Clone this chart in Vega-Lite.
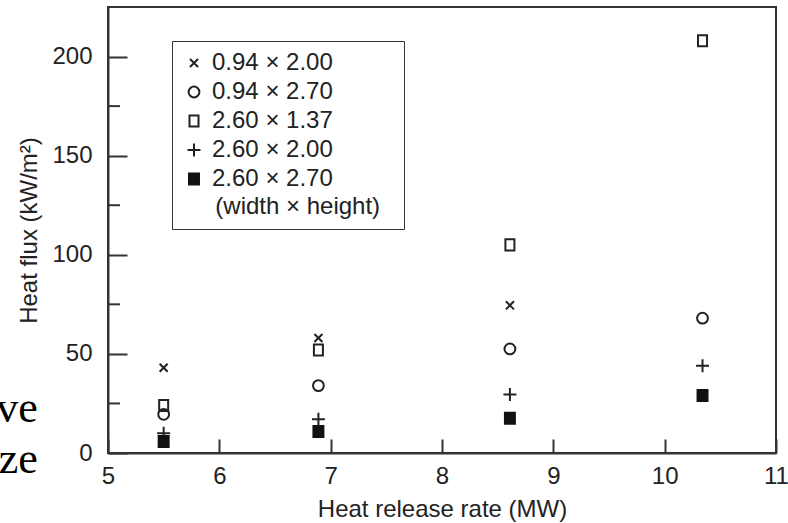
{
  "$schema": "https://vega.github.io/schema/vega-lite/v6.json",
  "width": 668,
  "height": 446,
  "autosize": {"type": "none"},
  "padding": {"left": 108, "top": 7, "right": 12, "bottom": 70},
  "background": "white",
  "config": {
    "view": {"stroke": "#333", "strokeWidth": 2},
    "font": "Liberation Sans",
    "axis": {
      "labelFont": "Liberation Sans", "titleFont": "Liberation Sans",
      "labelFontSize": 24, "titleFontSize": 24,
      "labelColor": "#222", "titleColor": "#222", "titleFontWeight": "normal",
      "domainColor": "#333", "domainWidth": 2, "tickColor": "#333", "tickWidth": 2,
      "grid": false, "labelFlush": false, "labelOverlap": false, "labelBound": false
    },
    "legend": {
      "symbolSize": 144,
      "orient": "none", "legendX": 64, "legendY": 34,
      "titleOrient": "bottom", "titleAnchor": "start", "titleLimit": 400, "labelLimit": 400,
      "titleFontSize": 24, "titleFontWeight": "normal", "titleFont": "Liberation Sans", "titleColor": "#222", "titlePadding": 4,
      "labelFontSize": 24, "labelFont": "Liberation Sans", "labelColor": "#222", "labelOffset": 6,
      "padding": 10, "strokeColor": "#333", "fillColor": "white", "rowPadding": 5,
      "symbolStrokeWidth": 2
    }
  },
  "layer": [
    {
      "data": {"values": [{"v": 25}, {"v": 75}, {"v": 125}, {"v": 175}]},
      "mark": {"type": "rule", "color": "#333", "strokeWidth": 2},
      "encoding": {
        "y": {"field": "v", "type": "quantitative"},
        "x": {"datum": 5},
        "x2": {"datum": 5.108}
      }
    },
    {
      "data": {"values": [
        {"hrr": 5.5, "flux": 43, "size": "0.94 × 2.00"},
        {"hrr": 6.89, "flux": 58, "size": "0.94 × 2.00"},
        {"hrr": 8.61, "flux": 74.5, "size": "0.94 × 2.00"},
        {"hrr": 5.5, "flux": 19.5, "size": "0.94 × 2.70"},
        {"hrr": 6.89, "flux": 34, "size": "0.94 × 2.70"},
        {"hrr": 8.61, "flux": 52.5, "size": "0.94 × 2.70"},
        {"hrr": 10.34, "flux": 68, "size": "0.94 × 2.70"},
        {"hrr": 5.5, "flux": 24, "size": "2.60 × 1.37"},
        {"hrr": 6.89, "flux": 52, "size": "2.60 × 1.37"},
        {"hrr": 8.61, "flux": 105, "size": "2.60 × 1.37"},
        {"hrr": 10.34, "flux": 208, "size": "2.60 × 1.37"},
        {"hrr": 5.5, "flux": 10, "size": "2.60 × 2.00"},
        {"hrr": 6.89, "flux": 17, "size": "2.60 × 2.00"},
        {"hrr": 8.61, "flux": 29.5, "size": "2.60 × 2.00"},
        {"hrr": 10.34, "flux": 44, "size": "2.60 × 2.00"},
        {"hrr": 5.5, "flux": 5.8, "size": "2.60 × 2.70"},
        {"hrr": 6.89, "flux": 10.8, "size": "2.60 × 2.70"},
        {"hrr": 8.61, "flux": 17.5, "size": "2.60 × 2.70"},
        {"hrr": 10.34, "flux": 29, "size": "2.60 × 2.70"}
      ]},
      "mark": {"type": "point", "filled": false, "strokeWidth": 2, "opacity": 1, "size": 144},
      "encoding": {
        "x": {
          "field": "hrr", "type": "quantitative",
          "scale": {"domain": [5, 11], "nice": false, "zero": false},
          "axis": {"values": [5, 6, 7, 8, 9, 10, 11], "format": "d", "tickSize": -14, "labelPadding": 25, "title": "Heat release rate (MW)", "titlePadding": 9}
        },
        "y": {
          "field": "flux", "type": "quantitative",
          "scale": {"domain": [0, 225], "nice": false},
          "axis": {
            "values": [0, 50, 100, 150, 200],
            "format": "d",
            "tickSize": -19,
            "labelPadding": 35,
            "title": "Heat flux (kW/m²)", "titlePadding": 10
          }
        },
        "shape": {
          "field": "size", "type": "nominal",
          "scale": {
            "domain": ["0.94 × 2.00", "0.94 × 2.70", "2.60 × 1.37", "2.60 × 2.00", "2.60 × 2.70"],
            "range": [
              "M-0.67,-0.67L0.67,0.67M-0.67,0.67L0.67,-0.67",
              "M-0.9,0A0.9,0.9 0 1,0 0.9,0A0.9,0.9 0 1,0 -0.9,0Z",
              "M-0.75,-0.92H0.75V0.92H-0.75Z",
              "M-1.08,0H1.08M0,-1.08V1.08",
              "M-0.83,-0.92H0.83V0.92H-0.83Z"
            ]
          },
          "legend": {"title": "\u200b\u00a0\u00a0\u00a0\u00a0\u00a0(width × height)\u00a0\u00a0\u200b"}
        },
        "fill": {
          "field": "size", "type": "nominal",
          "scale": {
            "domain": ["0.94 × 2.00", "0.94 × 2.70", "2.60 × 1.37", "2.60 × 2.00", "2.60 × 2.70"],
            "range": ["transparent", "transparent", "transparent", "transparent", "#111"]
          },
          "legend": {"title": "\u200b\u00a0\u00a0\u00a0\u00a0\u00a0(width × height)\u00a0\u00a0\u200b"}
        },
        "stroke": {
          "field": "size", "type": "nominal",
          "scale": {
            "domain": ["0.94 × 2.00", "0.94 × 2.70", "2.60 × 1.37", "2.60 × 2.00", "2.60 × 2.70"],
            "range": ["#222", "#222", "#222", "#222", "#111"]
          },
          "legend": {"title": "\u200b\u00a0\u00a0\u00a0\u00a0\u00a0(width × height)\u00a0\u00a0\u200b"}
        }
      }
    },
    {
      "data": {"values": [
        {"word": "ve", "px": 4.37, "py": 15.7},
        {"word": "ze", "px": 4.37, "py": -10.1}
      ]},
      "mark": {"type": "text", "font": "Liberation Serif", "fontSize": 44, "align": "right", "baseline": "alphabetic", "color": "#000"},
      "encoding": {
        "x": {"field": "px", "type": "quantitative"},
        "y": {"field": "py", "type": "quantitative"},
        "text": {"field": "word"}
      }
    }
  ]
}
